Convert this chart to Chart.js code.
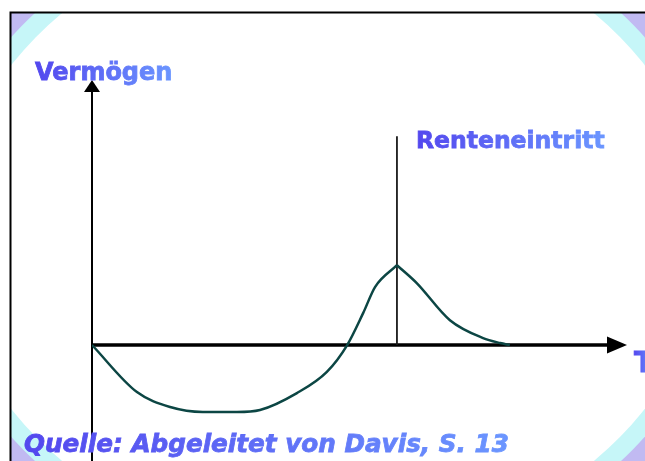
<!DOCTYPE html>
<html>
<head>
<meta charset="utf-8">
<script src="https://cdn.jsdelivr.net/npm/chart.js@4"></script>
<style>
  body { margin: 0; background: #fff; }
  canvas { display: block; }
</style>
</head>
<body>
<canvas id="chart" width="645" height="461"></canvas>
<script>
// Vermögensverlauf im Lebenszyklus
const ansparX = [0, 8.4, 14.6, 20.7, 27.1, 31.4, 38.3, 43.9, 47.7, 50.7, 52.9, 57];
const ansparY = [0, -14.2, -18.7, -20.2, -20.2, -19.6, -14.5, -8.1, 0, 9.7, 17.5, 24.1];
const entsparX = [57, 60.7, 66.9, 73.1, 76.3, 78.1];
const entsparY = [24.1, 18.7, 7.5, 2.1, 0.6, 0];
const renteX = 57;
const renteY = [0, 63];

const yTitle = 'Vermögen';
const xTitle = 'T';
const renteLabel = 'Renteneintritt';
const source = 'Quelle: Abgeleitet von Davis, S. 13';

const toPoints = (xs, ys) => xs.map((x, i) => ({x: x, y: ys[i]}));

const backdrop = {
  id: 'backdrop',
  beforeDraw(chart) {
    const ctx = chart.ctx;
    ctx.save();
    ctx.fillStyle = '#fff';
    ctx.fillRect(0, 0, chart.width, chart.height);
    ctx.beginPath();
    ctx.rect(10, 12, chart.width - 10, chart.height - 12);
    ctx.clip();
    ctx.fillStyle = '#bfb66e';
    ctx.fillRect(10, 12, chart.width - 10, chart.height - 12);
    // slide rings
    [[36, '#c1baf2'], [18, '#c6f6f8'], [0, '#ffffff']].forEach(([g, c]) => {
      ctx.beginPath();
      ctx.ellipse(328, 237, 378 + g, 315 + g, 0, 0, Math.PI * 2);
      ctx.fillStyle = c;
      ctx.fill();
    });
    ctx.restore();
    ctx.save();
    ctx.strokeStyle = '#000';
    ctx.lineWidth = 2;
    ctx.beginPath();
    ctx.moveTo(10.5, chart.height);
    ctx.lineTo(10.5, 12.5);
    ctx.lineTo(chart.width, 12.5);
    ctx.stroke();
    ctx.restore();
  }
};

const arrows = {
  id: 'arrows',
  beforeDatasetsDraw(chart) {
    const {ctx, chartArea: a, scales: {x, y}} = chart;
    const x0 = x.getPixelForValue(0), y0 = y.getPixelForValue(0);
    ctx.save();
    ctx.fillStyle = ctx.strokeStyle = '#000';
    ctx.lineWidth = 2;
    ctx.beginPath();
    ctx.moveTo(x0, a.bottom);
    ctx.lineTo(x0, a.top + 10);
    ctx.stroke();
    ctx.beginPath();
    ctx.moveTo(x0, a.top);
    ctx.lineTo(x0 - 8, a.top + 12);
    ctx.lineTo(x0 + 8, a.top + 12);
    ctx.fill();
    ctx.lineWidth = 3.5;
    ctx.beginPath();
    ctx.moveTo(x0, y0);
    ctx.lineTo(a.right - 18, y0);
    ctx.stroke();
    ctx.beginPath();
    ctx.moveTo(a.right, y0);
    ctx.lineTo(a.right - 20, y0 - 8.5);
    ctx.lineTo(a.right - 20, y0 + 8.5);
    ctx.fill();
    ctx.restore();
  }
};

function paintText(ctx, text, x, y, font) {
  ctx.font = font;
  const w = ctx.measureText(text).width;
  const g = ctx.createLinearGradient(x, 0, x + w, 0);
  g.addColorStop(0, '#5347ee');
  g.addColorStop(1, '#6b96ff');
  ctx.fillStyle = g;
  ctx.strokeStyle = g;
  ctx.lineWidth = 0.8;
  ctx.fillText(text, x, y);
  ctx.strokeText(text, x, y);
}

const labels = {
  id: 'labels',
  afterDraw(chart) {
    const {ctx, scales: {x}} = chart;
    ctx.save();
    ctx.textBaseline = 'alphabetic';
    paintText(ctx, yTitle, 35, 80, 'bold 24px "DejaVu Sans"');
    paintText(ctx, renteLabel, x.getPixelForValue(renteX) + 19, 148, 'bold 23.5px "DejaVu Sans"');
    paintText(ctx, xTitle, 634, 372, 'bold 28px "DejaVu Sans"');
    paintText(ctx, source, 24, 452, 'italic bold 24.7px "DejaVu Sans"');
    ctx.restore();
  }
};

new Chart(document.getElementById('chart'), {
  type: 'line',
  data: {
    datasets: [
      {
        label: 'Ansparphase',
        data: toPoints(ansparX, ansparY),
        borderColor: '#0c4644',
        borderWidth: 2.5,
        cubicInterpolationMode: 'monotone',
        pointRadius: 0
      },
      {
        label: 'Entsparphase',
        data: toPoints(entsparX, entsparY),
        borderColor: '#0c4644',
        borderWidth: 2.5,
        cubicInterpolationMode: 'monotone',
        pointRadius: 0
      },
      {
        label: renteLabel,
        data: renteY.map(v => ({x: renteX, y: v})),
        borderColor: '#1a1a1a',
        borderWidth: 1.8,
        pointRadius: 0
      }
    ]
  },
  options: {
    responsive: false,
    animation: false,
    layout: {padding: {left: 92, right: 18, top: 80, bottom: 0}},
    scales: {
      x: {type: 'linear', min: 0, max: 100, display: false},
      y: {min: -35, max: 80, display: false}
    },
    plugins: {
      legend: {display: false},
      tooltip: {enabled: false}
    }
  },
  plugins: [backdrop, arrows, labels]
});
</script>
</body>
</html>
